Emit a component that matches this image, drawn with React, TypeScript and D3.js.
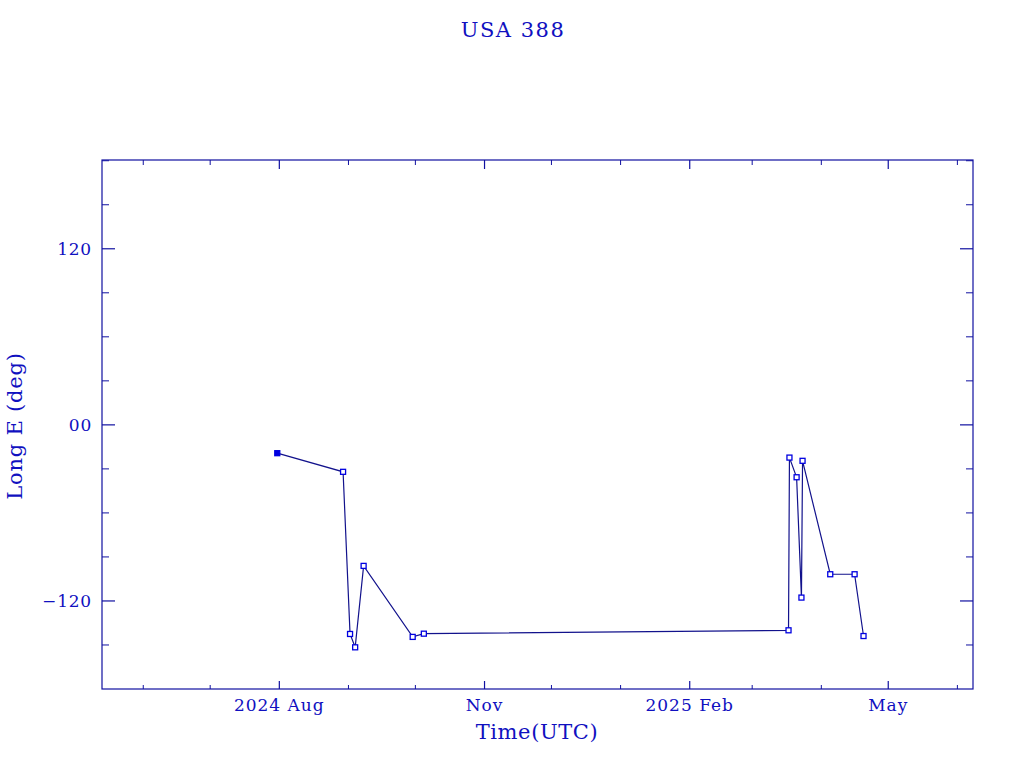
import React from "react";
import * as d3 from "d3";

const title = "USA 388";
const xLabel = "Time(UTC)";
const yLabel = "Long E (deg)";

const times: string[] = [
  "2024-07-31T02:00:00Z",
  "2024-08-29T14:00:00Z",
  "2024-09-01T17:00:00Z",
  "2024-09-04T00:00:00Z",
  "2024-09-07T19:00:00Z",
  "2024-09-29T19:00:00Z",
  "2024-10-04T19:00:00Z",
  "2025-03-17T07:00:00Z",
  "2025-03-17T17:00:00Z",
  "2025-03-20T22:00:00Z",
  "2025-03-23T02:00:00Z",
  "2025-03-23T14:00:00Z",
  "2025-04-05T00:00:00Z",
  "2025-04-15T22:00:00Z",
  "2025-04-19T22:00:00Z",
];
const longitudes: number[] = [
  -19.3, -32.0, -142.5, -151.6, -96.1, -144.5, -142.3, -140.0, -22.3, -35.7, -117.7, -24.5, -101.8,
  -101.8, -143.9,
];

const xMajorTicks: string[] = ["2024-08-01", "2024-11-01", "2025-02-01", "2025-05-01"];
const xMajorLabels: string[] = ["2024 Aug", "Nov", "2025 Feb", "May"];
const yMajorTicks: number[] = [120, 0, -120];
const yMajorLabels: string[] = ["120", "00", "\u2212120"];

const FRAME = "#1010a0";
const TEXT = "#1010c0";
const LINE = "#12128c";
const FONT = "'DejaVu Serif', 'Liberation Serif', serif";

export default function App() {
  const left = 102, right = 973, top = 160, bottom = 689;
  const x = d3
    .scaleUtc()
    .domain([new Date("2024-05-13T12:00:00Z"), new Date("2025-06-08T00:00:00Z")])
    .range([left, right]);
  const y = d3.scaleLinear().domain([-180, 180.5]).range([bottom, top]);

  const pts = times.map((t, i) => ({ d: new Date(t), v: longitudes[i] }));
  const line = d3
    .line<{ d: Date; v: number }>()
    .x((p) => x(p.d))
    .y((p) => y(p.v));

  const minorMonths = d3.utcMonth.range(x.domain()[0], x.domain()[1]);
  const majorSet = new Set(xMajorTicks.map((s) => new Date(s + "T00:00:00Z").getTime()));
  const yMinor = d3.range(-150, 181, 30).filter((v) => !yMajorTicks.includes(v));

  return (
    <svg
      width={1024}
      height={768}
      style={{ position: "absolute", left: 0, top: 0, background: "#fff" }}
    >
      <rect x={0} y={0} width={1024} height={768} fill="#fff" />
      <text x={513} y={37} textAnchor="middle" fontFamily={FONT} fontSize={21} fill={TEXT} letterSpacing={1.5}>
        {title}
      </text>

      {/* frame */}
      <rect x={left} y={top} width={right - left} height={bottom - top} fill="none" stroke={FRAME} strokeWidth={1.2} />

      {/* x minor ticks */}
      {minorMonths
        .filter((m) => !majorSet.has(m.getTime()))
        .map((m, i) => (
          <g key={"xm" + i} stroke={FRAME} strokeWidth={1}>
            <line x1={x(m)} x2={x(m)} y1={bottom} y2={bottom - 4} />
            <line x1={x(m)} x2={x(m)} y1={top} y2={top + 5} />
          </g>
        ))}
      {/* x major ticks */}
      {xMajorTicks.map((s, i) => {
        const xv = x(new Date(s + "T00:00:00Z"));
        return (
          <g key={"xM" + i}>
            <line x1={xv} x2={xv} y1={bottom} y2={bottom - 8} stroke={FRAME} strokeWidth={1.2} />
            <line x1={xv} x2={xv} y1={top} y2={top + 9} stroke={FRAME} strokeWidth={1.2} />
            <text x={xv} y={711} textAnchor="middle" fontFamily={FONT} fontSize={17} fill={TEXT} letterSpacing={1}>
              {xMajorLabels[i]}
            </text>
          </g>
        );
      })}

      {/* y minor ticks */}
      {yMinor.map((v, i) => (
        <g key={"ym" + i} stroke={FRAME} strokeWidth={1}>
          <line x1={left} x2={left + 7} y1={y(v)} y2={y(v)} />
          <line x1={right} x2={right - 7} y1={y(v)} y2={y(v)} />
        </g>
      ))}
      {/* y major ticks */}
      {yMajorTicks.map((v, i) => (
        <g key={"yM" + i}>
          <line x1={left} x2={left + 13} y1={y(v)} y2={y(v)} stroke={FRAME} strokeWidth={1.2} />
          <line x1={right} x2={right - 13} y1={y(v)} y2={y(v)} stroke={FRAME} strokeWidth={1.2} />
          <text x={92} y={y(v) + 6} textAnchor="end" fontFamily={FONT} fontSize={17} fill={TEXT} letterSpacing={0.8}>
            {yMajorLabels[i]}
          </text>
        </g>
      ))}

      {/* axis titles */}
      <text x={537} y={739} textAnchor="middle" fontFamily={FONT} fontSize={21} fill={TEXT} letterSpacing={0.6}>
        {xLabel}
      </text>
      <text
        x={0}
        y={0}
        transform={`translate(22,426) rotate(-90)`}
        textAnchor="middle"
        fontFamily={FONT}
        fontSize={21}
        fill={TEXT}
        letterSpacing={0.8}
      >
        {yLabel}
      </text>

      {/* data */}
      <path d={line(pts) || ""} fill="none" stroke={LINE} strokeWidth={1.2} />
      {pts.map((p, i) => (
        <rect
          key={"p" + i}
          x={x(p.d) - 2.5}
          y={y(p.v) - 2.5}
          width={5}
          height={5}
          fill={i === 0 ? "#0000e0" : "#fff"}
          stroke="#0000e0"
          strokeWidth={1.3}
        />
      ))}
    </svg>
  );
}
